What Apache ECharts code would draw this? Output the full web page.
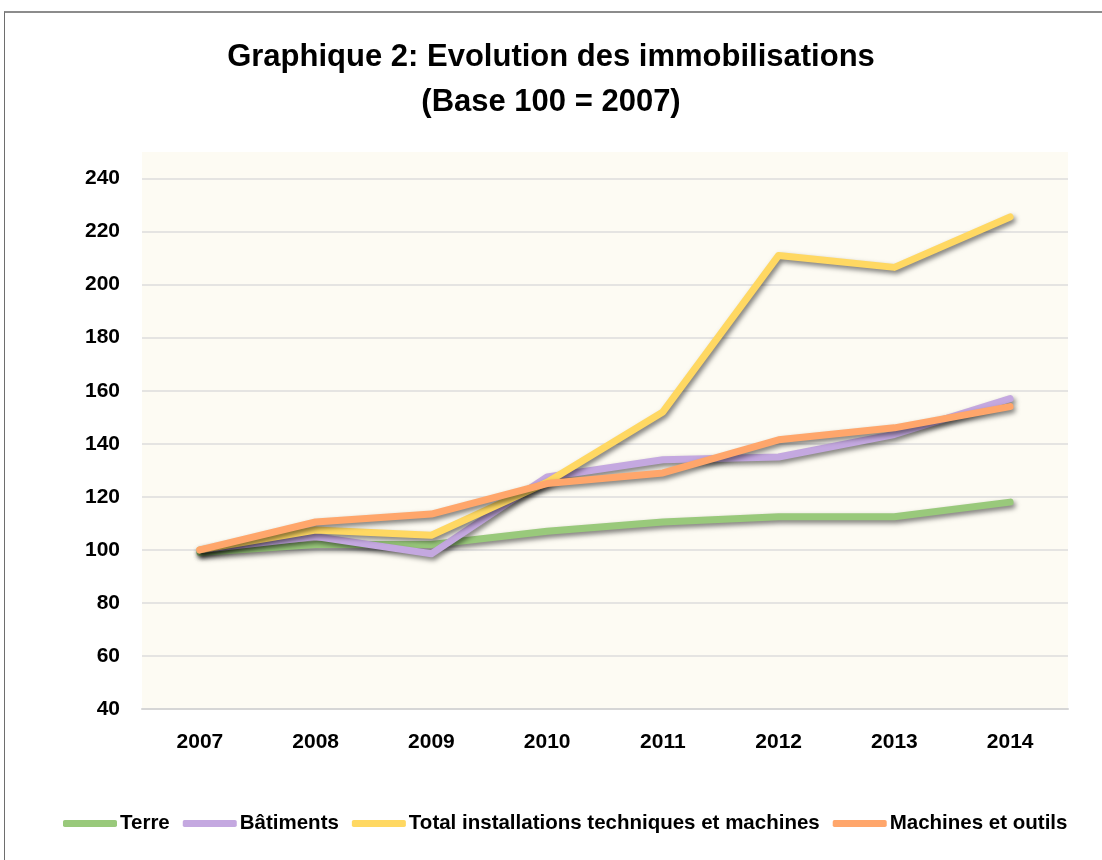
<!DOCTYPE html>
<html>
<head>
    <meta charset="utf-8">
    <title>Graphique 2</title>
    <style>
        html, body { margin: 0; padding: 0; background: #fff; }
        #main { width: 1102px; height: 860px; }
        .frame {
            position: absolute; left: 4px; top: 11px; width: 1200px; height: 900px;
            border-top: 2px solid #8c8c8c; border-left: 1px solid #6e6e6e;
            pointer-events: none;
        }
    </style>
</head>
<body>
    <div id="main"></div>
    <div class="frame"></div>
    <script src="https://cdn.jsdelivr.net/npm/echarts@6/dist/echarts.min.js"></script>
    <script>
        // donnees (base 100 = 2007)
        var years = ['2007', '2008', '2009', '2010', '2011', '2012', '2013', '2014'];
        var terre = [99, 102, 102, 107, 110.5, 112.5, 112.5, 118];
        var batiments = [100, 105, 98.5, 127.5, 134, 135, 143.5, 157];
        var totalInstallations = [100, 107.5, 105.5, 125.5, 152, 211, 206.5, 225.5];
        var machines = [100, 110.5, 113.5, 125, 129, 141.5, 146, 154];

        var names = ['Terre', 'Bâtiments', 'Total installations techniques et machines', 'Machines et outils'];
        var colors = ['#99c97b', '#c4a8e0', '#ffd862', '#ffa66b'];

        var font = '"Liberation Sans", sans-serif';

        function makeSeries (name, data, color) {
            return {
                name: name,
                type: 'line',
                data: data,
                symbol: 'none',
                smooth: false,
                color: color,
                lineStyle: {
                    width: 7,
                    color: color,
                    cap: 'round',
                    join: 'round',
                    shadowColor: 'rgba(0,0,0,0.5)',
                    shadowBlur: 5,
                    shadowOffsetX: 2,
                    shadowOffsetY: 3
                }
            };
        }

        var chart = echarts.init(document.getElementById('main'));

        var option = {
            backgroundColor: '#ffffff',
            animation: false,
            color: colors,
            title: {
                text: 'Graphique 2: Evolution des immobilisations\n(Base 100 = 2007)',
                left: 'center',
                top: 30,
                textStyle: {
                    fontFamily: font,
                    fontWeight: 'bold',
                    fontSize: 31,
                    lineHeight: 45,
                    color: '#000'
                }
            },
            legend: {
                bottom: 21,
                left: 58,
                icon: 'roundRect',
                itemWidth: 54,
                itemHeight: 7,
                itemGap: 13,
                data: names,
                textStyle: {
                    fontFamily: font,
                    fontWeight: 'bold',
                    fontSize: 20.5,
                    color: '#000',
                    padding: [0, 0, 0, -2]
                }
            },
            grid: {
                left: 142,
                right: 34,
                top: 152,
                bottom: 151,
                show: true,
                backgroundColor: '#fdfbf3',
                borderWidth: 0
            },
            xAxis: {
                type: 'category',
                data: years,
                boundaryGap: true,
                axisLine: { lineStyle: { color: '#d6d6d6', width: 2 } },
                axisTick: { show: false },
                axisLabel: {
                    margin: 23,
                    fontFamily: font,
                    fontWeight: 'bold',
                    fontSize: 21,
                    color: '#000'
                }
            },
            yAxis: {
                type: 'value',
                min: 40,
                max: 250,
                interval: 20,
                axisLine: { show: false },
                axisTick: { show: false },
                axisLabel: {
                    margin: 22,
                    showMaxLabel: false,
                    fontFamily: font,
                    fontWeight: 'bold',
                    fontSize: 21,
                    color: '#000'
                },
                splitLine: {
                    showMaxLine: false,
                    lineStyle: { color: '#dcdcdc', width: 1.5 }
                }
            },
            series: [
                makeSeries(names[0], terre, colors[0]),
                makeSeries(names[1], batiments, colors[1]),
                makeSeries(names[2], totalInstallations, colors[2]),
                makeSeries(names[3], machines, colors[3])
            ]
        };

        chart.setOption(option);
    </script>
</body>
</html>
